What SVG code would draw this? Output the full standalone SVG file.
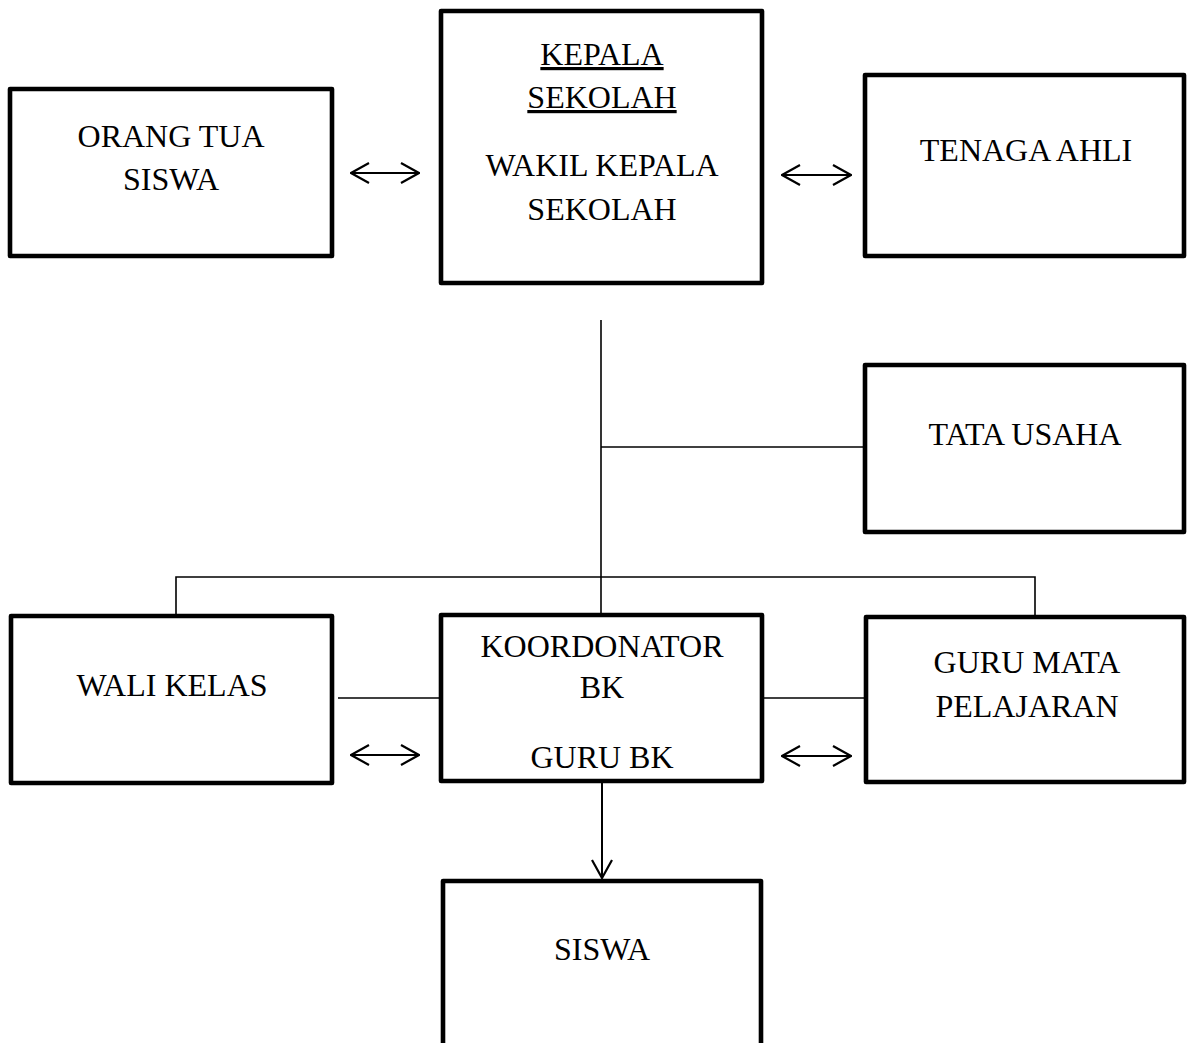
<svg xmlns="http://www.w3.org/2000/svg" width="1188" height="1043" viewBox="0 0 1188 1043">
<style>
.box{fill:#fff;stroke:#000;stroke-width:4.6;stroke-linejoin:round}
.t{font-family:"Liberation Serif","Times New Roman",serif;font-size:32px;fill:#000;text-anchor:middle}
.u{text-decoration:underline}
.ln{stroke:#000;stroke-width:1.6;fill:none}
.ar{stroke:#000;stroke-width:2;fill:none}
</style>
<defs>
<marker id="ah" viewBox="0 0 20 22" refX="19" refY="11" markerWidth="20" markerHeight="22" markerUnits="userSpaceOnUse" orient="auto-start-reverse">
<path d="M1,1 L19,11 L1,21" fill="none" stroke="#000" stroke-width="2.2"/>
</marker>
</defs>
<rect width="1188" height="1043" fill="#fff"/>
<g id="connectors">
<line class="ln" x1="601" y1="320" x2="601" y2="613"/>
<line class="ln" x1="601" y1="447" x2="865" y2="447"/>
<polyline class="ln" points="176,614 176,577 1035,577 1035,615"/>
<line class="ln" x1="338" y1="698" x2="441" y2="698"/>
<line class="ln" x1="762" y1="698" x2="865" y2="698"/>
<line class="ar" x1="351" y1="173" x2="419" y2="173" marker-start="url(#ah)" marker-end="url(#ah)"/>
<line class="ar" x1="782" y1="175" x2="851" y2="175" marker-start="url(#ah)" marker-end="url(#ah)"/>
<line class="ar" x1="351" y1="755" x2="419" y2="755" marker-start="url(#ah)" marker-end="url(#ah)"/>
<line class="ar" x1="782" y1="756" x2="851" y2="756" marker-start="url(#ah)" marker-end="url(#ah)"/>
<line class="ar" x1="602" y1="783" x2="602" y2="878" marker-end="url(#ah)"/>
</g>
<g id="orang-tua">
<rect class="box" x="10" y="89" width="322" height="167"/>
<text class="t" x="171" y="147">ORANG TUA</text>
<text class="t" x="171" y="190">SISWA</text>
</g>
<g id="kepala-sekolah">
<rect class="box" x="441" y="11" width="321" height="272"/>
<text class="t u" x="602" y="65">KEPALA</text>
<text class="t u" x="602" y="108">SEKOLAH</text>
<text class="t" x="602" y="176">WAKIL KEPALA</text>
<text class="t" x="602" y="220">SEKOLAH</text>
</g>
<g id="tenaga-ahli">
<rect class="box" x="865" y="75" width="319" height="181"/>
<text class="t" x="1026" y="161">TENAGA AHLI</text>
</g>
<g id="tata-usaha">
<rect class="box" x="865" y="365" width="319" height="167"/>
<text class="t" x="1025" y="445">TATA USAHA</text>
</g>
<g id="wali-kelas">
<rect class="box" x="11" y="616" width="321" height="167"/>
<text class="t" x="172" y="696">WALI KELAS</text>
</g>
<g id="koordinator-bk">
<rect class="box" x="441" y="615" width="321" height="166"/>
<text class="t" x="602" y="657">KOORDONATOR</text>
<text class="t" x="602" y="698">BK</text>
<text class="t" x="602" y="768">GURU BK</text>
</g>
<g id="guru-mata-pelajaran">
<rect class="box" x="866" y="617" width="318" height="165"/>
<text class="t" x="1027" y="673">GURU MATA</text>
<text class="t" x="1027" y="717">PELAJARAN</text>
</g>
<g id="siswa">
<rect class="box" x="443" y="881" width="318" height="180"/>
<text class="t" x="602" y="960">SISWA</text>
</g>
</svg>
